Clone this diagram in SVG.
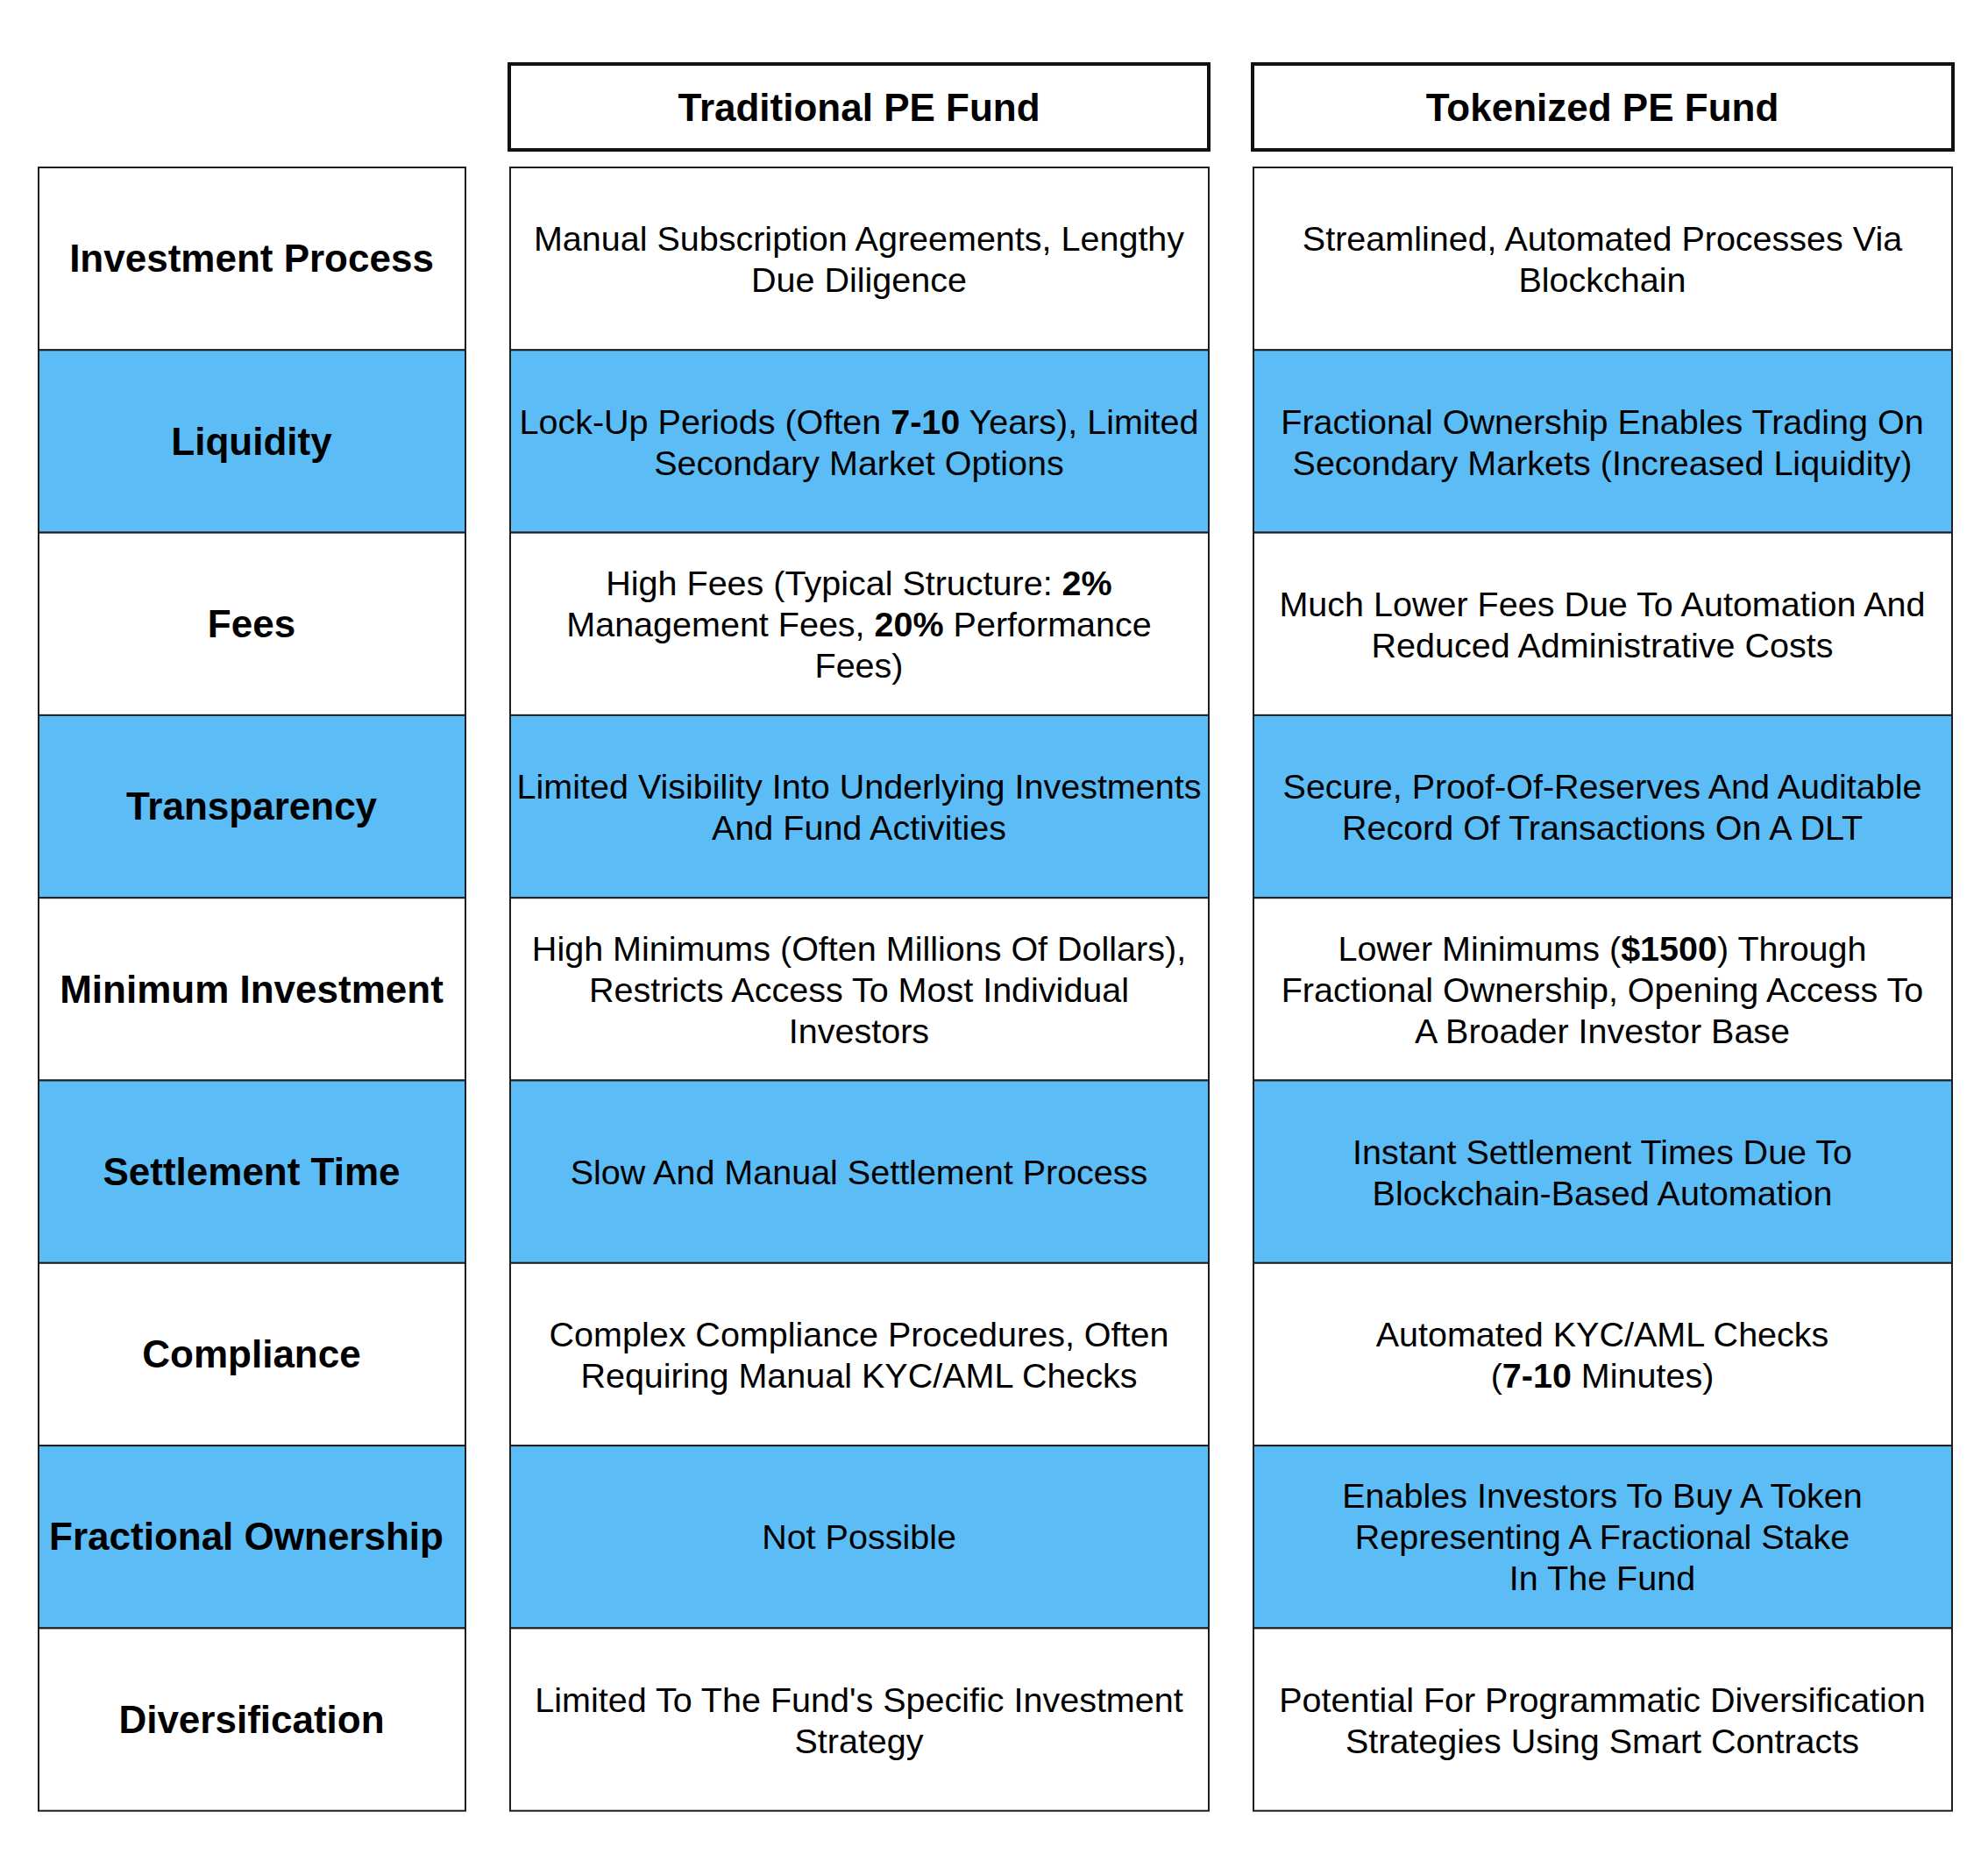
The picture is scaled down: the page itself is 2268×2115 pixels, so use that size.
<svg xmlns="http://www.w3.org/2000/svg" width="2268" height="2115" viewBox="0 0 2268 2115">
<style>
.bg{fill:#ffffff}
.hdr{fill:#ffffff;stroke:#111111;stroke-width:4}
.w{fill:#ffffff;stroke:#1e1e1e;stroke-width:2}
.b{fill:#5BBCF6;stroke:#1e1e1e;stroke-width:2}
.lab{font-family:"Liberation Sans",Arial,Helvetica,sans-serif;font-size:44px;font-weight:bold;fill:#000;text-anchor:middle}
.txt{font-family:"Liberation Sans",Arial,Helvetica,sans-serif;font-size:39.5px;fill:#000;text-anchor:middle}
.bold{font-weight:bold}
</style>
<rect class="bg" x="0" y="0" width="2268" height="2115"/>

<g id="header-traditional">
<rect class="hdr" x="581" y="73" width="798" height="98"/>
<text class="lab" x="980" y="138">Traditional PE Fund</text>
</g>
<g id="header-tokenized">
<rect class="hdr" x="1429" y="73" width="799" height="98"/>
<text class="lab" x="1828" y="138">Tokenized PE Fund</text>
</g>

<!-- Row 1 -->
<g id="label-investment-process">
<rect class="w" x="44" y="191" width="487" height="208.3"/>
<text class="lab" x="287" y="310">Investment Process</text>
</g>
<g id="trad-investment-process">
<rect class="w" x="582" y="191" width="797" height="208.3"/>
<text class="txt" x="980" y="286">Manual Subscription Agreements, Lengthy</text>
<text class="txt" x="980" y="333">Due Diligence</text>
</g>
<g id="tok-investment-process">
<rect class="w" x="1430" y="191" width="797" height="208.3"/>
<text class="txt" x="1828" y="286">Streamlined, Automated Processes Via</text>
<text class="txt" x="1828" y="333">Blockchain</text>
</g>

<!-- Row 2 -->
<g id="label-liquidity">
<rect class="b" x="44" y="399.3" width="487" height="208.3"/>
<text class="lab" x="287" y="518.5">Liquidity</text>
</g>
<g id="trad-liquidity">
<rect class="b" x="582" y="399.3" width="797" height="208.3"/>
<text class="txt" x="980" y="494.5">Lock-Up Periods (Often <tspan class="bold">7-10</tspan> Years), Limited</text>
<text class="txt" x="980" y="541.5">Secondary Market Options</text>
</g>
<g id="tok-liquidity">
<rect class="b" x="1430" y="399.3" width="797" height="208.3"/>
<text class="txt" x="1828" y="494.5">Fractional Ownership Enables Trading On</text>
<text class="txt" x="1828" y="541.5">Secondary Markets (Increased Liquidity)</text>
</g>

<!-- Row 3 -->
<g id="label-fees">
<rect class="w" x="44" y="607.6" width="487" height="208.3"/>
<text class="lab" x="287" y="727">Fees</text>
</g>
<g id="trad-fees">
<rect class="w" x="582" y="607.6" width="797" height="208.3"/>
<text class="txt" x="980" y="679">High Fees (Typical Structure: <tspan class="bold">2%</tspan></text>
<text class="txt" x="980" y="726">Management Fees, <tspan class="bold">20%</tspan> Performance</text>
<text class="txt" x="980" y="773">Fees)</text>
</g>
<g id="tok-fees">
<rect class="w" x="1430" y="607.6" width="797" height="208.3"/>
<text class="txt" x="1828" y="703">Much Lower Fees Due To Automation And</text>
<text class="txt" x="1828" y="750">Reduced Administrative Costs</text>
</g>

<!-- Row 4 -->
<g id="label-transparency">
<rect class="b" x="44" y="815.9" width="487" height="208.3"/>
<text class="lab" x="287" y="935">Transparency</text>
</g>
<g id="trad-transparency">
<rect class="b" x="582" y="815.9" width="797" height="208.3"/>
<text class="txt" x="980" y="911">Limited Visibility Into Underlying Investments</text>
<text class="txt" x="980" y="958">And Fund Activities</text>
</g>
<g id="tok-transparency">
<rect class="b" x="1430" y="815.9" width="797" height="208.3"/>
<text class="txt" x="1828" y="911">Secure, Proof-Of-Reserves And Auditable</text>
<text class="txt" x="1828" y="958">Record Of Transactions On A DLT</text>
</g>

<!-- Row 5 -->
<g id="label-minimum-investment">
<rect class="w" x="44" y="1024.2" width="487" height="208.3"/>
<text class="lab" x="287" y="1143.5">Minimum Investment</text>
</g>
<g id="trad-minimum-investment">
<rect class="w" x="582" y="1024.2" width="797" height="208.3"/>
<text class="txt" x="980" y="1095.5">High Minimums (Often Millions Of Dollars),</text>
<text class="txt" x="980" y="1142.5">Restricts Access To Most Individual</text>
<text class="txt" x="980" y="1189.5">Investors</text>
</g>
<g id="tok-minimum-investment">
<rect class="w" x="1430" y="1024.2" width="797" height="208.3"/>
<text class="txt" x="1828" y="1095.5">Lower Minimums (<tspan class="bold">$1500</tspan>) Through</text>
<text class="txt" x="1828" y="1142.5">Fractional Ownership, Opening Access To</text>
<text class="txt" x="1828" y="1189.5">A Broader Investor Base</text>
</g>

<!-- Row 6 -->
<g id="label-settlement-time">
<rect class="b" x="44" y="1232.5" width="487" height="208.3"/>
<text class="lab" x="287" y="1352">Settlement Time</text>
</g>
<g id="trad-settlement-time">
<rect class="b" x="582" y="1232.5" width="797" height="208.3"/>
<text class="txt" x="980" y="1351">Slow And Manual Settlement Process</text>
</g>
<g id="tok-settlement-time">
<rect class="b" x="1430" y="1232.5" width="797" height="208.3"/>
<text class="txt" x="1828" y="1327.5">Instant Settlement Times Due To</text>
<text class="txt" x="1828" y="1374.5">Blockchain-Based Automation</text>
</g>

<!-- Row 7 -->
<g id="label-compliance">
<rect class="w" x="44" y="1440.8" width="487" height="208.3"/>
<text class="lab" x="287" y="1560">Compliance</text>
</g>
<g id="trad-compliance">
<rect class="w" x="582" y="1440.8" width="797" height="208.3"/>
<text class="txt" x="980" y="1536">Complex Compliance Procedures, Often</text>
<text class="txt" x="980" y="1583">Requiring Manual KYC/AML Checks</text>
</g>
<g id="tok-compliance">
<rect class="w" x="1430" y="1440.8" width="797" height="208.3"/>
<text class="txt" x="1828" y="1536">Automated KYC/AML Checks</text>
<text class="txt" x="1828" y="1583">(<tspan class="bold">7-10</tspan> Minutes)</text>
</g>

<!-- Row 8 -->
<g id="label-fractional-ownership">
<rect class="b" x="44" y="1649.1" width="487" height="208.3"/>
<text class="lab" x="281" y="1768">Fractional Ownership</text>
</g>
<g id="trad-fractional-ownership">
<rect class="b" x="582" y="1649.1" width="797" height="208.3"/>
<text class="txt" x="980" y="1767">Not Possible</text>
</g>
<g id="tok-fractional-ownership">
<rect class="b" x="1430" y="1649.1" width="797" height="208.3"/>
<text class="txt" x="1828" y="1720">Enables Investors To Buy A Token</text>
<text class="txt" x="1828" y="1767">Representing A Fractional Stake</text>
<text class="txt" x="1828" y="1814">In The Fund</text>
</g>

<!-- Row 9 -->
<g id="label-diversification">
<rect class="w" x="44" y="1857.4" width="487" height="208.3"/>
<text class="lab" x="287" y="1976.5">Diversification</text>
</g>
<g id="trad-diversification">
<rect class="w" x="582" y="1857.4" width="797" height="208.3"/>
<text class="txt" x="980" y="1952.5">Limited To The Fund's Specific Investment</text>
<text class="txt" x="980" y="1999.5">Strategy</text>
</g>
<g id="tok-diversification">
<rect class="w" x="1430" y="1857.4" width="797" height="208.3"/>
<text class="txt" x="1828" y="1952.5">Potential For Programmatic Diversification</text>
<text class="txt" x="1828" y="1999.5">Strategies Using Smart Contracts</text>
</g>
</svg>
